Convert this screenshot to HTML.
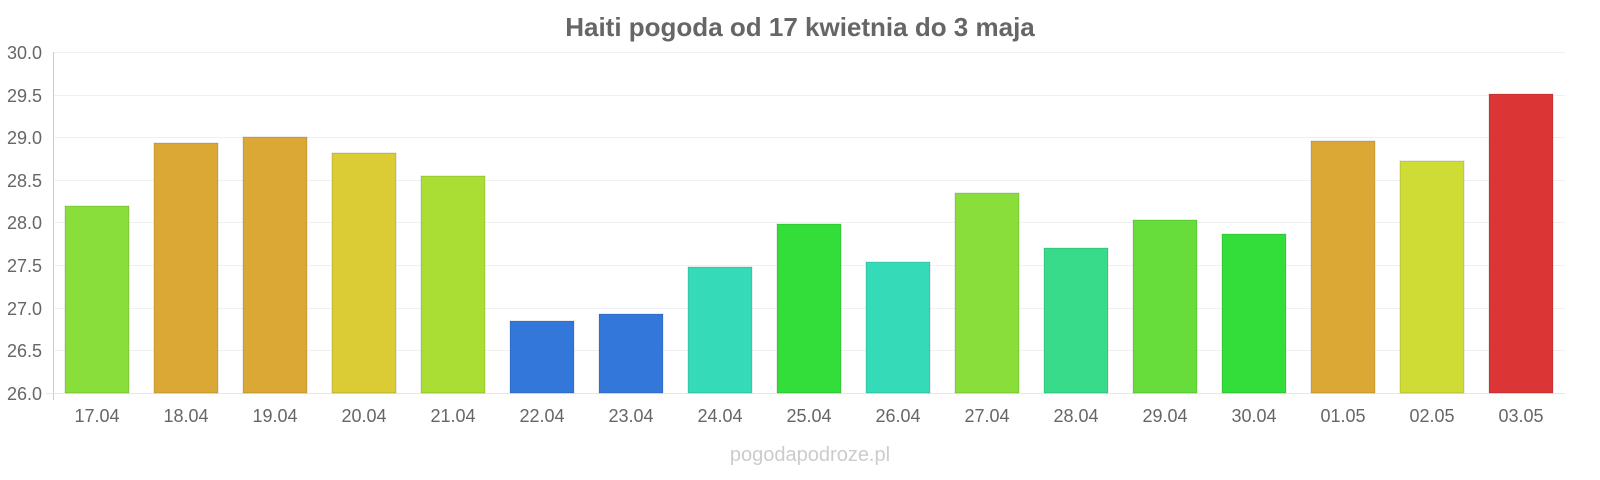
<!DOCTYPE html>
<html><head><meta charset="utf-8"><style>
body{margin:0;background:#fff;}
svg{display:block;font-family:"Liberation Sans",sans-serif;}
</style></head><body>
<svg width="1600" height="480" viewBox="0 0 1600 480">
<text x="800" y="36" text-anchor="middle" font-size="26" font-weight="bold" fill="#666">Haiti pogoda od 17 kwietnia do 3 maja</text>
<g stroke="#f0f0f0" stroke-width="1">
<line x1="53" x2="1565" y1="52.5" y2="52.5"/>
<line x1="53" x2="1565" y1="95.5" y2="95.5"/>
<line x1="53" x2="1565" y1="137.5" y2="137.5"/>
<line x1="53" x2="1565" y1="180.5" y2="180.5"/>
<line x1="53" x2="1565" y1="222.5" y2="222.5"/>
<line x1="53" x2="1565" y1="265.5" y2="265.5"/>
<line x1="53" x2="1565" y1="308.5" y2="308.5"/>
<line x1="53" x2="1565" y1="350.5" y2="350.5"/>
</g>
<line x1="53.5" x2="53.5" y1="52" y2="400" stroke="#ccc"/>
<line x1="46" x2="1565" y1="393.5" y2="393.5" stroke="#e6e6e6"/>
<g font-size="18" fill="#666" text-anchor="end">
<text x="42" y="59">30.0</text><text x="42" y="102">29.5</text><text x="42" y="144">29.0</text><text x="42" y="187">28.5</text><text x="42" y="229">28.0</text><text x="42" y="272">27.5</text><text x="42" y="315">27.0</text><text x="42" y="357">26.5</text><text x="42" y="400">26.0</text>
</g>
<g stroke-opacity="0.3" stroke="#000" stroke-width="0.5">
<rect x="65" y="206" width="64" height="187" fill="#8ade3a"/>
<rect x="154" y="143" width="64" height="250" fill="#dca835"/>
<rect x="243" y="137" width="64" height="256" fill="#dca835"/>
<rect x="332" y="153" width="64" height="240" fill="#dbcb35"/>
<rect x="421" y="176" width="64" height="217" fill="#aade35"/>
<rect x="510" y="321" width="64" height="72" fill="#3477db"/>
<rect x="599" y="314" width="64" height="79" fill="#3477db"/>
<rect x="688" y="267" width="64" height="126" fill="#35dbb8"/>
<rect x="777" y="224" width="64" height="169" fill="#33dd3a"/>
<rect x="866" y="262" width="64" height="131" fill="#35dbb8"/>
<rect x="955" y="193" width="64" height="200" fill="#8ade3a"/>
<rect x="1044" y="248" width="64" height="145" fill="#37db8a"/>
<rect x="1133" y="220" width="64" height="173" fill="#66dd3a"/>
<rect x="1222" y="234" width="64" height="159" fill="#33dd3a"/>
<rect x="1311" y="141" width="64" height="252" fill="#dca835"/>
<rect x="1400" y="161" width="64" height="232" fill="#cfdc35"/>
<rect x="1489" y="94" width="64" height="299" fill="#dc3535"/>
</g>
<g font-size="18" fill="#666" text-anchor="middle">
<text x="97" y="422">17.04</text><text x="186" y="422">18.04</text><text x="275" y="422">19.04</text><text x="364" y="422">20.04</text><text x="453" y="422">21.04</text><text x="542" y="422">22.04</text><text x="631" y="422">23.04</text><text x="720" y="422">24.04</text><text x="809" y="422">25.04</text><text x="898" y="422">26.04</text><text x="987" y="422">27.04</text><text x="1076" y="422">28.04</text><text x="1165" y="422">29.04</text><text x="1254" y="422">30.04</text><text x="1343" y="422">01.05</text><text x="1432" y="422">02.05</text><text x="1521" y="422">03.05</text>
</g>
<text x="810" y="461" text-anchor="middle" font-size="20" fill="#ccc">pogodapodroze.pl</text>
</svg>
</body></html>
